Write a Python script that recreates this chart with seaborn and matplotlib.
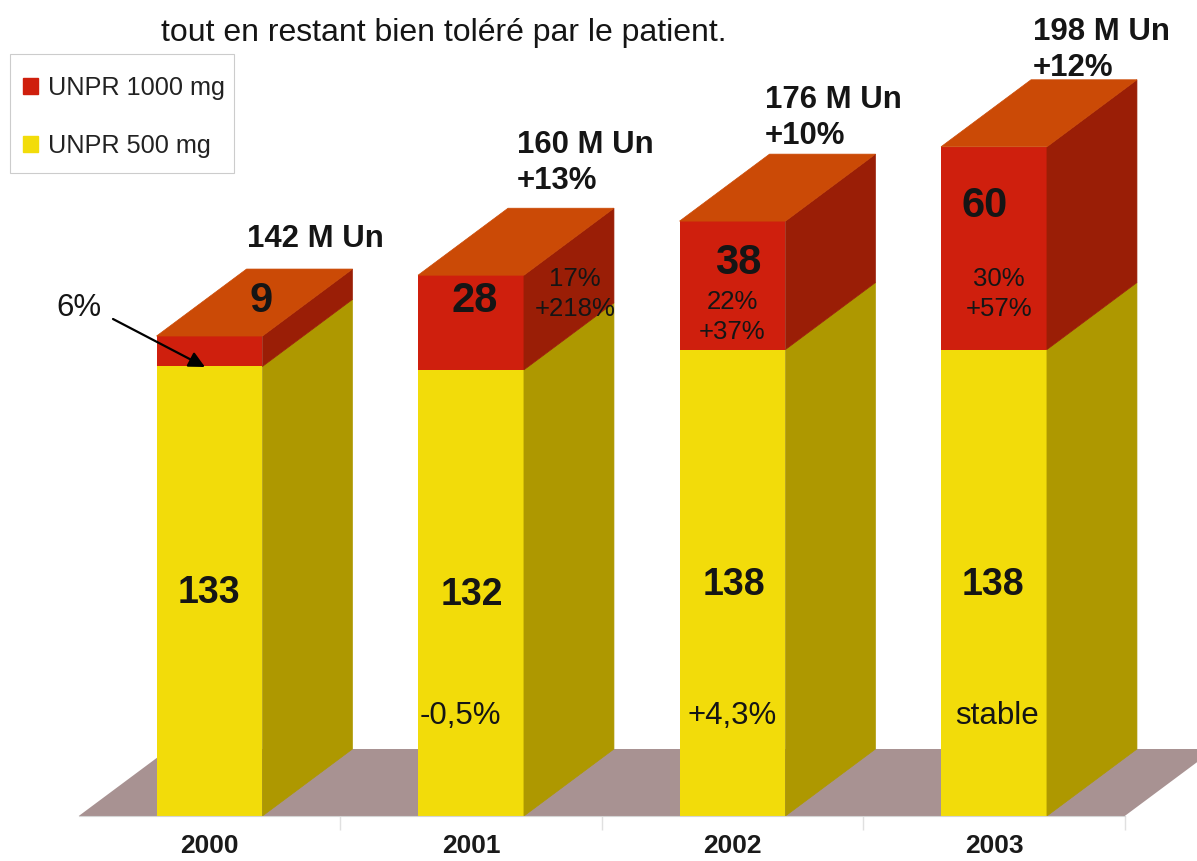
# stacked "3D" bars, UNPR units per year
import matplotlib
matplotlib.use('Agg')
import matplotlib.pyplot as plt
from matplotlib.patches import Patch, Rectangle
import seaborn as sns

# data
years = ['2000', '2001', '2002', '2003']
unpr_500 = [133, 132, 138, 138]
unpr_1000 = [9, 28, 38, 60]

title = 'tout en restant bien toléré par le patient.'
totals = ['142 M Un', '160 M Un\n+13%', '176 M Un\n+10%', '198 M Un\n+12%']
small_red = ['', '17%\n+218%', '22%\n+37%', '30%\n+57%']
small_yellow = ['', '-0,5%', '+4,3%', 'stable']

# colours
yellow = '#F2DC0A'
yellow_side = '#AE9800'
red = '#CF1F0D'
red_side = '#9A1E06'
red_top = '#CB4A06'
floor = '#A89292'

W, H = 1197, 861
depth_x = 90 / 261.5
depth_y = 67 / 3.38

sns.set_style('white')
plt.rcParams['font.family'] = ['Liberation Sans', 'DejaVu Sans']

fig = plt.figure(figsize=(W / 100, H / 100), dpi=100)
ax = fig.add_axes([0, 0, 1, 1])

sns.barplot(x=years, y=unpr_500, color=yellow, saturation=1, width=0.405, linewidth=0, ax=ax)
n_yellow = len(ax.patches)
sns.barplot(x=years, y=unpr_1000, bottom=unpr_500, color=red, saturation=1, width=0.405, linewidth=0, ax=ax)
bars = list(ax.patches)

ax.set_xlim(-209.5 / 261.5, (W - 209.5) / 261.5)
ax.set_ylim(-45 / 3.38, 816 / 3.38)

# floor
ax.fill([-0.5, 3.5, 3.5 + depth_x, -0.5 + depth_x], [0, 0, depth_y, depth_y], color=floor, lw=0, zorder=0)

# side and top faces from the bars themselves
for i, bar in enumerate(bars):
    x1 = bar.get_x() + bar.get_width()
    x0 = bar.get_x()
    y0 = bar.get_y()
    y1 = y0 + bar.get_height()
    side = yellow_side if i < n_yellow else red_side
    ax.fill([x1, x1 + depth_x, x1 + depth_x, x1],
            [y0, y0 + depth_y, y1 + depth_y, y1], color=side, lw=0.5)
    if i >= n_yellow:
        ax.fill([x0, x1, x1 + depth_x, x0 + depth_x],
                [y1, y1, y1 + depth_y, y1 + depth_y], color=red_top, lw=0.5)

# axis line and ticks
for s in ['top', 'left', 'right']:
    ax.spines[s].set_visible(False)
ax.spines['bottom'].set_position(('data', 0))
ax.spines['bottom'].set_bounds(-0.5, 3.5)
ax.spines['bottom'].set_color('#d5d5d5')
ax.set_yticks([])
ax.set_xticks([0.5, 1.5, 2.5, 3.5], minor=True)
ax.tick_params(axis='x', which='minor', length=10, color='#e0e0e0', width=1, direction='out', bottom=True)
ax.tick_params(axis='x', which='major', length=0, pad=13, labelsize=19)
for lab in ax.get_xticklabels():
    lab.set_fontweight('bold')
    lab.set_color('#1a1a1a')
ax.set_xlabel('')
ax.set_ylabel('')


def put(x, y, s, size, bold=False, ha='center', va='center', linespacing=1.0):
    fig.text(x / W, 1 - y / H, s, fontsize=size, ha=ha, va=va, color='#151515',
             fontweight='bold' if bold else 'normal', linespacing=linespacing)


put(161, 33, title, 23, ha='left')

# totals above the bars
total_x = [247, 517, 765, 1033]
total_y = [239, 163, 118, 50]
for x, y, s in zip(total_x, total_y, totals):
    put(x, y, s, 22.4, bold=True, ha='left', linespacing=1.22)

# values in the bars
val_x = [209, 475, 738, 985]
val_y = [301, 301, 263, 206]
for x, y, v in zip(val_x, val_y, unpr_1000):
    put(x + (52 if v == 9 else 0), y, str(v), 30, bold=True)
yel_x = [209, 472, 734, 993]
yel_y = [593, 595, 585, 585]
for x, y, v in zip(yel_x, yel_y, unpr_500):
    put(x, y, str(v), 27, bold=True)

red_x = [0, 575, 732, 999]
red_y = [0, 294, 317, 294]
for x, y, s in zip(red_x, red_y, small_red):
    if s:
        put(x, y, s, 18.5, linespacing=1.28)
low_x = [0, 460, 732, 997]
for x, s in zip(low_x, small_yellow):
    if s:
        put(x, 716, s, 22.5)

# 6% callout
put(79, 308, '6%', 22.5)
ax.annotate('', xy=(205 / W, 1 - 367 / H), xytext=(113 / W, 1 - 319 / H),
            xycoords='figure fraction', textcoords='figure fraction',
            arrowprops=dict(arrowstyle='-|>', color='black', lw=1.6, mutation_scale=24, shrinkA=0, shrinkB=0))

# legend
ax.add_patch(Rectangle((10 / W, 1 - 173 / H), 224 / W, 119 / H, transform=fig.transFigure,
                       facecolor='white', edgecolor='#cccccc', lw=0.8, zorder=4))
handles = [Patch(color=red, label='UNPR 1000 mg'), Patch(color=yellow, label='UNPR 500 mg')]
leg = ax.legend(handles=handles, loc='upper left', bbox_to_anchor=(23 / W, 1 - 76 / H),
                borderaxespad=0, frameon=False, borderpad=0,
                fontsize=18.2, handlelength=0.6, handleheight=0.6, handletextpad=0.4,
                labelspacing=1.36, labelcolor='#222222')

fig.savefig('out.png', dpi=100)
